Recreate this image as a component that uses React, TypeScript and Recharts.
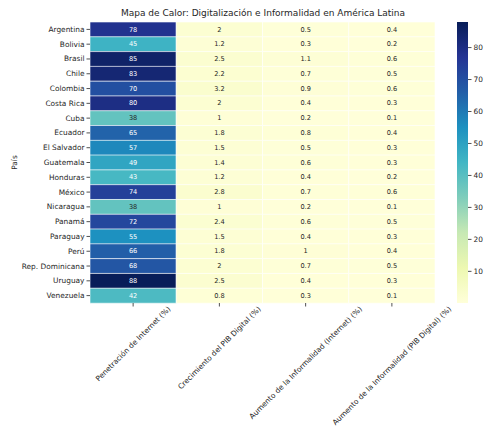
import React from 'react';
import { BarChart, Bar, XAxis, YAxis, Cell, LabelList } from 'recharts';

const countries = [
  'Argentina', 'Bolivia', 'Brasil', 'Chile', 'Colombia', 'Costa Rica', 'Cuba', 'Ecuador',
  'El Salvador', 'Guatemala', 'Honduras', 'México', 'Nicaragua', 'Panamá', 'Paraguay',
  'Perú', 'Rep. Dominicana', 'Uruguay', 'Venezuela',
];
const internetPct = [78, 45, 85, 83, 70, 80, 38, 65, 57, 49, 43, 74, 38, 72, 55, 66, 68, 88, 42];
const pibDigitalPct = [2, 1.2, 2.5, 2.2, 3.2, 2, 1, 1.8, 1.5, 1.4, 1.2, 2.8, 1, 2.4, 1.5, 1.8, 2, 2.5, 0.8];
const informalInternetPct = [0.5, 0.3, 1.1, 0.7, 0.9, 0.4, 0.2, 0.8, 0.5, 0.6, 0.4, 0.7, 0.2, 0.6, 0.4, 1, 0.7, 0.4, 0.3];
const informalPibPct = [0.4, 0.2, 0.6, 0.5, 0.6, 0.3, 0.1, 0.4, 0.3, 0.3, 0.2, 0.6, 0.1, 0.5, 0.3, 0.4, 0.5, 0.3, 0.1];

const columns = [
  'Penetración de Internet (%)',
  'Crecimiento del PIB Digital (%)',
  'Aumento de la Informalidad (Internet) (%)',
  'Aumento de la Informalidad (PIB Digital) (%)',
];
const colorbarTicks = [10, 20, 30, 40, 50, 60, 70, 80];

const series = [internetPct, pibDigitalPct, informalInternetPct, informalPibPct];

// YlGnBu
const ylgnbu = ['#ffffd9', '#edf8b1', '#c7e9b4', '#7fcdbb', '#41b6c4', '#1d91c0', '#225ea8', '#253494', '#081d58'];

const allValues = series.flat();
const vmin = Math.min(...allValues);
const vmax = Math.max(...allValues);

const hexToRgb = (h: string) => [1, 3, 5].map(i => parseInt(h.slice(i, i + 2), 16));

const colorFor = (v: number) => {
  const t = Math.max(0, Math.min(1, (v - vmin) / (vmax - vmin)));
  const pos = t * (ylgnbu.length - 1);
  const i = Math.min(Math.floor(pos), ylgnbu.length - 2);
  const f = pos - i;
  const a = hexToRgb(ylgnbu[i]);
  const b = hexToRgb(ylgnbu[i + 1]);
  const c = a.map((x, k) => Math.round(x + (b[k] - x) * f));
  return `rgb(${c[0]},${c[1]},${c[2]})`;
};

const luminance = (v: number) => {
  const m = colorFor(v).match(/\d+/g)!.map(Number);
  const lin = m.map(x => {
    const s = x / 255;
    return s <= 0.03928 ? s / 12.92 : Math.pow((s + 0.055) / 1.055, 2.4);
  });
  return 0.2126 * lin[0] + 0.7152 * lin[1] + 0.0722 * lin[2];
};

const data = countries.map((country, i) => ({
  country,
  v0: internetPct[i],
  v1: pibDigitalPct[i],
  v2: informalInternetPct[i],
  v3: informalPibPct[i],
  c0: 1,
  c1: 1,
  c2: 1,
  c3: 1,
}));

const FONT = 'DejaVu Sans';
const TEXT = '#262626';

let measureCtx: CanvasRenderingContext2D | null = null;
const measure = (s: string, size: number) => {
  if (!measureCtx) measureCtx = document.createElement('canvas').getContext('2d');
  if (!measureCtx) return s.length * size * 0.6;
  measureCtx.font = `${size}px "${FONT}"`;
  return measureCtx.measureText(s).width;
};

const XTick = (props: any) => {
  const { x, y, payload } = props;
  const label = columns[Math.floor(payload.value)];
  const size = 7.4;
  const L = measure(label, size);
  const bboxH = (L + size) * Math.SQRT1_2;
  const cy = y - 3.5 + bboxH / 2;
  return (
    <text
      x={x}
      y={cy}
      textAnchor="middle"
      dominantBaseline="central"
      transform={`rotate(-45, ${x}, ${cy})`}
      fontSize={size}
      fontFamily={FONT}
      fill={TEXT}
    >
      {label}
    </text>
  );
};

const YTick = (props: any) => {
  const { x, y, payload } = props;
  return (
    <text
      x={x}
      y={y}
      textAnchor="end"
      dominantBaseline="central"
      fontSize={7.4}
      fontFamily={FONT}
      fill={TEXT}
    >
      {payload.value}
    </text>
  );
};

const renderAnnot = (props: any) => {
  const { x, y, width, height, value } = props;
  const color = luminance(value) > 0.408 ? TEXT : '#ffffff';
  return (
    <text
      x={x + width / 2}
      y={y + height / 2}
      textAnchor="middle"
      dominantBaseline="central"
      fontSize={6.6}
      fontFamily={FONT}
      fill={color}
    >
      {value}
    </text>
  );
};

export default function App() {
  return (
    <div style={{ position: 'absolute', left: 0, top: 0, width: 484, height: 426, background: '#fff', fontFamily: FONT }}>
      <div
        style={{
          position: 'absolute', left: 90, width: 346, top: 8, textAlign: 'center',
          fontSize: 9, color: TEXT, lineHeight: '11px', whiteSpace: 'nowrap',
        }}
      >
        Mapa de Calor: Digitalización e Informalidad en América Latina
      </div>
      <div style={{ position: 'absolute', left: 0, top: 0 }}>
        <BarChart
          width={484}
          height={426}
          data={data}
          layout="vertical"
          margin={{ top: 22, right: 49, bottom: 13, left: 0 }}
          barCategoryGap={0}
          barGap={0}
        >
          <XAxis
            type="number"
            domain={[0, 4]}
            ticks={[0.5, 1.5, 2.5, 3.5]}
            height={110}
            axisLine={false}
            tickSize={3.5}
            tickLine={{ stroke: TEXT, strokeWidth: 0.8 }}
            tick={<XTick />}
            interval={0}
          />
          <YAxis
            type="category"
            dataKey="country"
            width={90}
            axisLine={false}
            tickSize={3.5}
            tickLine={{ stroke: TEXT, strokeWidth: 0.8 }}
            tick={<YTick />}
            interval={0}
            label={{
              content: (p: any) => {
                const vb = p.viewBox;
                const cx = 14;
                const cy = vb.y + vb.height / 2;
                return (
                  <text
                    x={cx}
                    y={cy}
                    textAnchor="middle"
                    dominantBaseline="central"
                    transform={`rotate(-90, ${cx}, ${cy})`}
                    fontSize={7.4}
                    fontFamily={FONT}
                    fill={TEXT}
                  >
                    País
                  </text>
                );
              },
            }}
          />
          {[0, 1, 2, 3].map(ci => (
            <Bar
              key={ci}
              dataKey={`c${ci}`}
              stackId="cells"
              isAnimationActive={false}
              stroke="#ffffff"
              strokeWidth={0.6}
            >
              {data.map((d: any, i) => (
                <Cell key={i} fill={colorFor(d[`v${ci}`])} />
              ))}
              <LabelList dataKey={`v${ci}`} content={renderAnnot} />
            </Bar>
          ))}
        </BarChart>
      </div>
      <div style={{ position: 'absolute', left: 457, top: 0 }}>
        <BarChart
          width={41}
          height={426}
          data={[{ name: 'cb', range: [vmin, vmax] }]}
          margin={{ top: 22, right: 0, bottom: 123, left: 0 }}
          barCategoryGap={0}
        >
          <defs>
            <linearGradient id="ylgnbu" x1="0" y1="0" x2="0" y2="1">
              {ylgnbu.map((c, i) => (
                <stop key={i} offset={`${(i / (ylgnbu.length - 1)) * 100}%`} stopColor={ylgnbu[ylgnbu.length - 1 - i]} />
              ))}
            </linearGradient>
          </defs>
          <XAxis dataKey="name" hide />
          <YAxis
            orientation="right"
            type="number"
            domain={[vmin, vmax]}
            ticks={colorbarTicks}
            width={30}
            axisLine={false}
            tickSize={3.5}
            tickLine={{ stroke: TEXT, strokeWidth: 0.8 }}
            tick={{ fontSize: 7.4, fill: TEXT, fontFamily: FONT }}
            interval={0}
          />
          <Bar dataKey="range" fill="url(#ylgnbu)" isAnimationActive={false} />
        </BarChart>
      </div>
    </div>
  );
}
